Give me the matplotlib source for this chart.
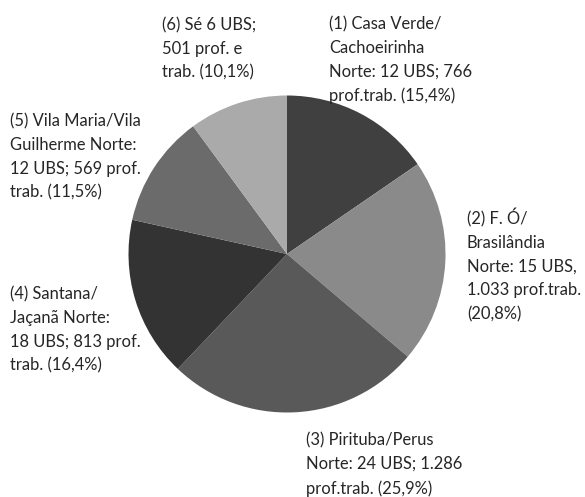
import matplotlib.pyplot as plt

# data
regioes = ["(1) Casa Verde/\nCachoeirinha\nNorte: 12 UBS; 766\nprof.trab. (15,4%)",
           "(2) F. Ó/\nBrasilândia\nNorte: 15 UBS,\n1.033 prof.trab.\n(20,8%)",
           "(3) Pirituba/Perus\nNorte: 24 UBS; 1.286\nprof.trab. (25,9%)",
           "(4) Santana/\nJaçanã Norte:\n18 UBS; 813 prof.\ntrab. (16,4%)",
           "(5) Vila Maria/Vila\nGuilherme Norte:\n12 UBS; 569 prof.\ntrab. (11,5%)",
           "(6) Sé 6 UBS;\n501 prof. e\ntrab. (10,1%)"]
prof_trab = [766, 1033, 1286, 813, 569, 501]
cores = ["#404040", "#8a8a8a", "#595959", "#333333", "#6b6b6b", "#aaaaaa"]

# where each label block starts (pixels from top left)
label_pos = [(329, 16), (467, 208), (306, 432), (10, 286), (10, 113), (162, 17)]

W, H = 585, 497
fig = plt.figure(figsize=(W / 100, H / 100), dpi=100)
ax = fig.add_axes([0, 0, 1, 1])

ax.pie(prof_trab, colors=cores, startangle=90, counterclock=False,
       center=(287, H - 254), radius=158.5, frame=True,
       wedgeprops={"linewidth": 0})

for txt, (x, y) in zip(regioes, label_pos):
    ax.text(x, H - y, txt, ha="left", va="top", fontsize=11.9,
            family="Lato", color="#262626", linespacing=1.6)

ax.set_xlim(0, W)
ax.set_ylim(0, H)
ax.set_aspect("equal")
ax.axis("off")

fig.savefig("out.png", dpi=100)
